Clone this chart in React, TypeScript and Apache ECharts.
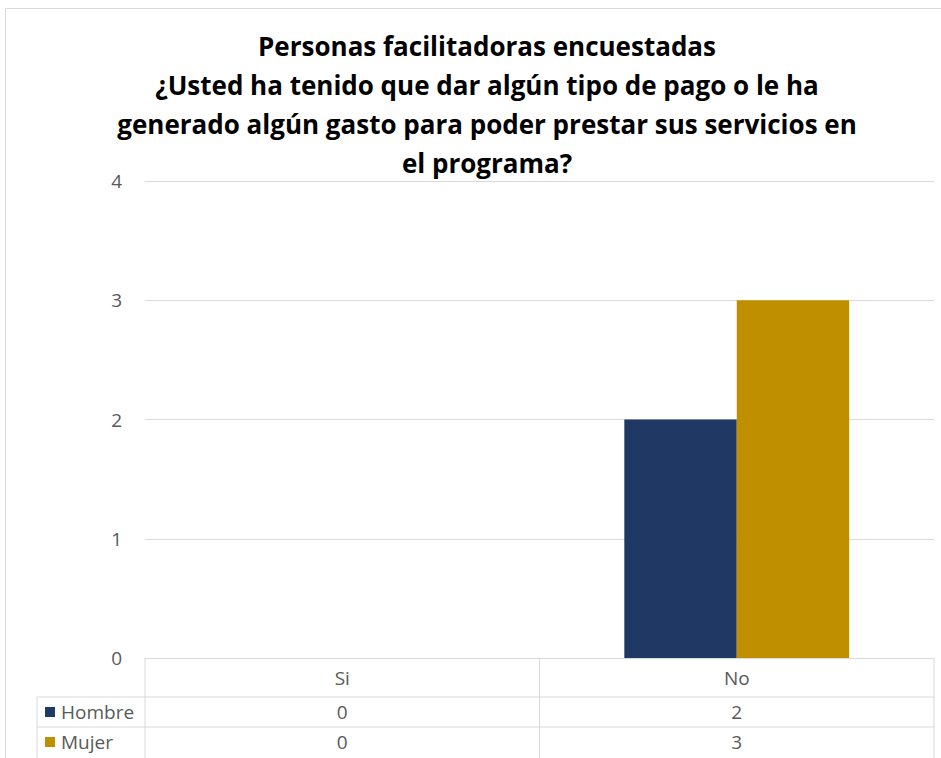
import React, { useEffect, useRef } from "react";
import * as echarts from "echarts";

const titleLines = [
  "Personas facilitadoras encuestadas",
  "¿Usted ha tenido que dar algún tipo de pago o le ha",
  "generado algún gasto para poder prestar sus servicios en",
  "el programa?",
];
const categories = ["Si", "No"];
const seriesNames = ["Hombre", "Mujer"];
const hombre = [0, 2];
const mujer = [0, 3];
const yTicks = [0, 1, 2, 3, 4];
const colors = ["#1f3864", "#bf8f00"];

export default function App() {
  const ref = useRef<HTMLDivElement>(null);
  useEffect(() => {
    document.body.style.margin = "0";
    const chart = echarts.init(ref.current!, null, { renderer: "svg" });
    const W = 941, H = 758;
    const gridLeft = 145, gridRight = 934, gridTop = 181, gridBottom = 658;
    const row1 = 697, row2 = 727, tableLeft = 37;
    const font = "'Open Sans', sans-serif";
    const seriesData = [hombre, mujer];
    chart.setOption({
      animation: false,
      backgroundColor: "#ffffff",
      grid: { left: gridLeft, right: W - gridRight, top: gridTop, bottom: H - gridBottom, containLabel: false },
      xAxis: {
        type: "category",
        data: categories,
        axisLine: { lineStyle: { color: "#d9d9d9" } },
        axisTick: { show: false },
        axisLabel: { color: "#595959", fontSize: 19, margin: 10, fontFamily: font },
      },
      yAxis: {
        type: "value",
        min: yTicks[0],
        max: yTicks[yTicks.length - 1],
        interval: 1,
        axisLine: { show: false },
        axisTick: { show: false },
        axisLabel: { color: "#595959", fontSize: 19, margin: 23, fontFamily: font },
        splitLine: { lineStyle: { color: "#d9d9d9" } },
      },
      series: seriesNames.map((n, i) => ({
        name: n,
        type: "bar",
        data: seriesData[i],
        itemStyle: { color: colors[i] },
        barGap: "0%",
        barCategoryGap: "43%",
      })),
    });
    const centers = categories.map((c) => chart.convertToPixel({ xAxisIndex: 0 }, c) as number);
    const lineStyle = { stroke: "#d9d9d9", lineWidth: 1 };
    const graphics: any[] = [
      { type: "rect", shape: { x: 5.5, y: 8.5, width: W, height: H }, style: { fill: "none", stroke: "#d9d9d9", lineWidth: 1 }, z: -1 },
    ];
    titleLines.forEach((t, i) => {
      graphics.push({
        type: "text",
        x: 487,
        y: 46 + i * 39,
        style: { text: t, fill: "#000000", font: `bold 26px ${font}`, textAlign: "center", textVerticalAlign: "middle" },
      });
    });
    // table lines
    graphics.push({ type: "line", shape: { x1: tableLeft, y1: row1, x2: gridRight, y2: row1 }, style: lineStyle });
    graphics.push({ type: "line", shape: { x1: tableLeft, y1: row2, x2: gridRight, y2: row2 }, style: lineStyle });
    graphics.push({ type: "line", shape: { x1: tableLeft, y1: row1, x2: tableLeft, y2: H }, style: lineStyle });
    const boundaries = [gridLeft, ...centers.slice(0, -1).map((c, i) => (c + centers[i + 1]) / 2), gridRight];
    boundaries.forEach((bx) => {
      graphics.push({ type: "line", shape: { x1: bx, y1: gridBottom, x2: bx, y2: H }, style: lineStyle });
    });
    const rowCenters = [712, 742];
    seriesNames.forEach((n, si) => {
      const cy = rowCenters[si];
      graphics.push({ type: "rect", shape: { x: 45, y: cy - 5, width: 10, height: 10 }, style: { fill: colors[si] } });
      graphics.push({
        type: "text", x: 61, y: cy,
        style: { text: n, fill: "#595959", font: `19px ${font}`, textAlign: "left", textVerticalAlign: "middle" },
      });
      seriesData[si].forEach((v, ci) => {
        graphics.push({
          type: "text", x: centers[ci], y: cy,
          style: { text: String(v), fill: "#595959", font: `19px ${font}`, textAlign: "center", textVerticalAlign: "middle" },
        });
      });
    });
    chart.setOption({ graphic: graphics });
    return () => chart.dispose();
  }, []);
  return <div ref={ref} style={{ width: 941, height: 758 }} />;
}
